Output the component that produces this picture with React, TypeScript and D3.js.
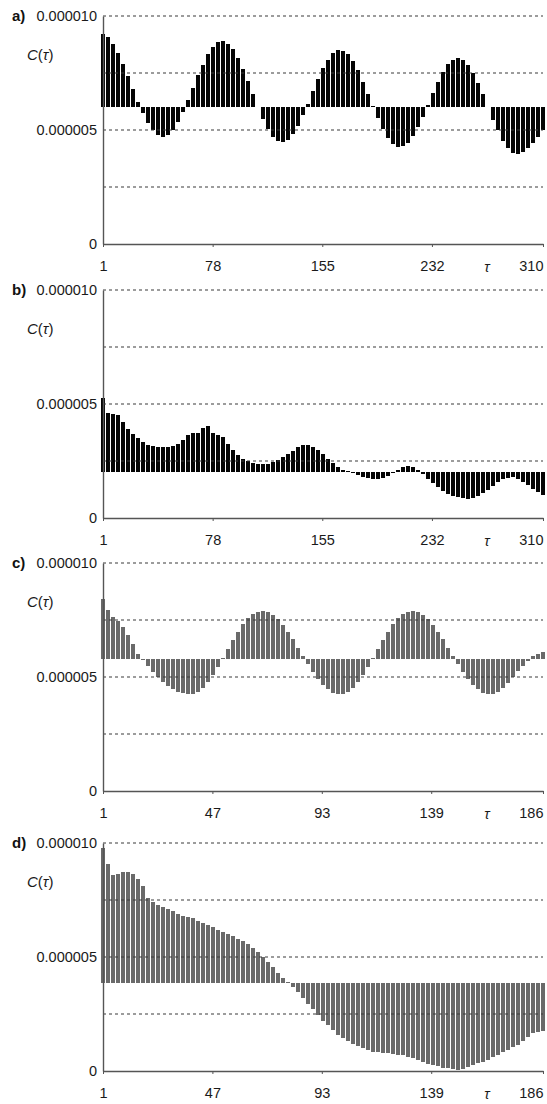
import React, { useEffect, useRef } from 'react';
import * as d3 from 'd3';

// values are in units of 1e-6
const lagTicksAB = [1, 78, 155, 232, 310];
const lagTicksCD = [1, 47, 93, 139, 186];
const yTickValues = [0, 5, 10];
const yTickLabels = ['0', '0.000005', '0.000010'];
const gridValues = [2.5, 5, 7.5, 10];
const panelLabels = ['a)', 'b)', 'c)', 'd)'];
const baselines = [6.0, 2.0, 5.8, 3.86];

const seriesA = [
  9.22, 9.07, 8.79, 8.39, 7.91, 7.37, 6.81, 6.25, 5.75, 5.31, 4.98, 4.77, 4.70, 4.77, 4.99, 5.33,
  5.78, 6.30, 6.85, 7.40, 7.86, 8.34, 8.66, 8.85, 8.90, 8.79, 8.55, 8.16, 7.69, 7.15, 6.57, 6.00,
  5.49, 5.04, 4.71, 4.52, 4.47, 4.57, 4.82, 5.18, 5.64, 6.16, 6.70, 7.23, 7.70, 8.09, 8.36, 8.49,
  8.47, 8.32, 8.03, 7.62, 7.10, 6.60, 6.04, 5.51, 5.03, 4.66, 4.39, 4.26, 4.28, 4.43, 4.72, 5.11,
  5.59, 6.10, 6.62, 7.12, 7.55, 7.88, 8.09, 8.16, 8.09, 7.87, 7.52, 7.07, 6.56, 6.00, 5.45, 4.99,
  4.51, 4.19, 3.99, 3.95, 4.02, 4.20, 4.45, 4.70, 5.00,
];

const seriesB = [
  5.25, 4.6, 4.55, 4.5, 4.2, 3.9, 3.7, 3.5, 3.35, 3.22, 3.14, 3.12, 3.12, 3.12, 3.15, 3.25,
  3.4, 3.65, 3.72, 3.75, 3.95, 4.05, 3.72, 3.62, 3.55, 3.25, 3.0, 2.78, 2.6, 2.48, 2.4, 2.37,
  2.35, 2.38, 2.45, 2.55, 2.67, 2.8, 2.95, 3.1, 3.18, 3.18, 3.1, 3.0, 2.8, 2.6, 2.4, 2.25,
  2.12, 2.05, 1.98, 1.9, 1.8, 1.75, 1.72, 1.72, 1.76, 1.85, 1.98, 2.12, 2.25, 2.3, 2.25, 2.1,
  1.92, 1.72, 1.52, 1.35, 1.2, 1.07, 0.97, 0.9, 0.86, 0.85, 0.88, 0.95, 1.08, 1.25, 1.42, 1.58,
  1.7, 1.77, 1.78, 1.72, 1.6, 1.45, 1.28, 1.12, 1.0,
];

const seriesC = [
  8.4, 7.95, 7.65, 7.45, 7.2, 6.85, 6.45, 6.0, 5.74, 5.48, 5.23, 5.01, 4.80, 4.62, 4.48, 4.36,
  4.29, 4.25, 4.27, 4.36, 4.53, 4.78, 5.10, 5.45, 5.83, 6.23, 6.63, 6.99, 7.32, 7.57, 7.76, 7.87,
  7.90, 7.85, 7.72, 7.54, 7.29, 6.99, 6.65, 6.29, 5.93, 5.56, 5.22, 4.91, 4.66, 4.46, 4.32, 4.26,
  4.27, 4.36, 4.53, 4.78, 5.10, 5.45, 5.83, 6.23, 6.63, 6.99, 7.32, 7.57, 7.76, 7.87, 7.90, 7.85,
  7.72, 7.54, 7.29, 6.99, 6.65, 6.29, 5.93, 5.56, 5.22, 4.91, 4.66, 4.46, 4.32, 4.26, 4.27, 4.36,
  4.52, 4.74, 5.0, 5.25, 5.5, 5.72, 5.9, 6.02, 6.1,
];

const seriesD = [
  9.8, 9.1, 8.6, 8.65, 8.75, 8.75, 8.65, 8.4, 8.1, 7.6, 7.4, 7.3, 7.2, 7.1, 7.0, 6.9,
  6.8, 6.75, 6.7, 6.6, 6.5, 6.4, 6.3, 6.2, 6.1, 6.0, 5.9, 5.8, 5.7, 5.55, 5.4, 5.2,
  5.0, 4.8, 4.55, 4.3, 4.1, 3.9, 3.7, 3.45, 3.2, 2.95, 2.7, 2.45, 2.2, 2.0, 1.8, 1.6,
  1.45, 1.32, 1.2, 1.1, 1.0, 0.9, 0.85, 0.82, 0.8, 0.78, 0.75, 0.72, 0.68, 0.62, 0.55, 0.48,
  0.4, 0.32, 0.26, 0.2, 0.15, 0.12, 0.08, 0.05, 0.1, 0.18, 0.25, 0.33, 0.4, 0.5, 0.6, 0.72,
  0.82, 0.92, 1.05, 1.15, 1.3, 1.5, 1.65, 1.7, 1.75,
];

const panels = [
  { label: panelLabels[0], top: 16, values: seriesA, base: baselines[0], ticks: lagTicksAB, color: '#050505' },
  { label: panelLabels[1], top: 290, values: seriesB, base: baselines[1], ticks: lagTicksAB, color: '#050505' },
  { label: panelLabels[2], top: 563, values: seriesC, base: baselines[2], ticks: lagTicksCD, color: '#6a6a6a' },
  { label: panelLabels[3], top: 843, values: seriesD, base: baselines[3], ticks: lagTicksCD, color: '#6a6a6a' },
];

const FONT = "'Liberation Sans', Arial, sans-serif";

const App: React.FC = () => {
  const svgRef = useRef<SVGSVGElement>(null);

  useEffect(() => {
    if (!svgRef.current) return;
    const svg = d3.select(svgRef.current);
    svg.selectAll('*').remove();

    const left = 103;
    const right = 543;
    const plotH = 228;

    panels.forEach(p => {
      const maxLag = p.ticks[p.ticks.length - 1];
      const x = d3.scaleLinear().domain([1, maxLag]).range([left, right]);
      const y = d3.scaleLinear().domain([0, 10]).range([p.top + plotH, p.top]);
      const step = (maxLag - 1) / (p.values.length - 1);
      const g = svg.append('g');

      // bars hanging from the mean line, 4px wide with a 1px gap
      g.selectAll('rect.bar')
        .data(p.values)
        .enter()
        .append('rect')
        .attr('class', 'bar')
        .attr('x', (d, i) => Math.round(x(1 + i * step)) - 2)
        .attr('y', d => Math.min(y(d), y(p.base)))
        .attr('width', 4)
        .attr('height', d => Math.abs(y(d) - y(p.base)))
        .attr('fill', p.color)
        .attr('shape-rendering', 'crispEdges');

      // dashed grid on top
      g.selectAll('line.grid')
        .data(gridValues)
        .enter()
        .append('line')
        .attr('class', 'grid')
        .attr('x1', left)
        .attr('x2', right)
        .attr('y1', d => y(d))
        .attr('y2', d => y(d))
        .attr('stroke', '#3a3a3a')
        .attr('stroke-width', 1.2)
        .attr('stroke-dasharray', '3,3');

      // y axis
      const yAxis = g.append('g')
        .attr('transform', `translate(${left},0)`)
        .call(
          d3.axisLeft(y)
            .tickValues(yTickValues)
            .tickSize(0)
            .tickSizeOuter(0)
            .tickPadding(6)
            .tickFormat((d, i) => yTickLabels[i])
        );
      yAxis.select('.domain').attr('stroke', '#555').attr('stroke-width', 1.4);
      yAxis.selectAll('text').style('font-family', FONT).style('font-size', '14.5px').style('fill', '#1a1a1a');

      // x axis
      const xAxis = g.append('g')
        .attr('transform', `translate(0,${y(0)})`)
        .call(
          d3.axisBottom(x)
            .tickValues(p.ticks)
            .tickSize(3)
            .tickSizeOuter(0)
            .tickPadding(14)
            .tickFormat(d3.format('d'))
        );
      xAxis.select('.domain').attr('stroke', '#555').attr('stroke-width', 1.4);
      xAxis.selectAll('line').attr('stroke', '#555');
      xAxis.selectAll('text')
        .style('font-family', FONT)
        .style('font-size', '14.5px')
        .style('fill', '#1a1a1a')
        .attr('text-anchor', (d, i) => (i === p.ticks.length - 1 ? 'end' : 'middle'));

      // tau label
      g.append('text')
        .attr('x', 487)
        .attr('y', y(0) + 28)
        .attr('text-anchor', 'middle')
        .style('font-family', FONT)
        .style('font-size', '14.5px')
        .style('font-style', 'italic')
        .style('fill', '#1a1a1a')
        .text('τ');

      // panel letter
      g.append('text')
        .attr('x', 12)
        .attr('y', p.top + 5)
        .style('font-family', FONT)
        .style('font-size', '15px')
        .style('font-weight', 'bold')
        .style('fill', '#111')
        .text(p.label);

      // C(tau) label
      const c = g.append('text')
        .attr('x', 27)
        .attr('y', p.top + 44)
        .style('font-family', FONT)
        .style('font-size', '15px')
        .style('fill', '#1a1a1a');
      c.append('tspan').style('font-style', 'italic').text('C');
      c.append('tspan').text('(');
      c.append('tspan').style('font-style', 'italic').text('τ');
      c.append('tspan').text(')');
    });
  }, []);

  return (
    <svg
      ref={svgRef}
      width={547}
      height={1104}
      style={{ position: 'absolute', left: 0, top: 0, background: '#fff' }}
    />
  );
};

export default App;
